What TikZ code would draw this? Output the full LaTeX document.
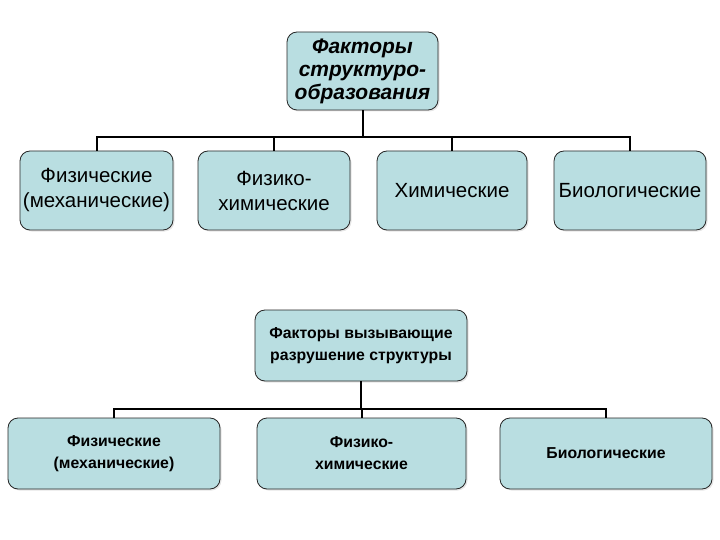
\documentclass[tikz,border=0pt]{standalone}
\usepackage{fontspec}
\setmainfont{Liberation Sans}
\definecolor{boxfill}{RGB}{185,222,225}
\usetikzlibrary{shadows}
\tikzset{
  fbox/.style={draw=black!85, line width=0.8pt, fill=boxfill, rounded corners=10pt, align=center, inner sep=0pt,
    drop shadow={shadow xshift=1.5pt, shadow yshift=-1.5pt, fill=black!20}},
  conn/.style={line width=2pt, draw=black},
  titlefont/.style={font=\fontsize{21}{23}\selectfont\bfseries\itshape},
  rowfont/.style={font=\fontsize{20.5}{25}\selectfont},
  lowfont/.style={font=\fontsize{15.8}{22}\selectfont\bfseries}
}
\begin{document}
\begin{tikzpicture}[x=1pt,y=-1pt]
\useasboundingbox (0,0) rectangle (720,540);
% top group
\node[fbox, minimum width=151pt, minimum height=78pt, titlefont] (T) at (362.5,71) {Факторы\\структуро-\\образования};
\node[fbox, minimum width=153pt, minimum height=79pt, rowfont] (A1) at (96.5,190.5) {Физические\\(механические)};
\node[fbox, minimum width=152pt, minimum height=79pt, rowfont] (A2) at (274,190.5) {Физико-\\химические};
\node[fbox, minimum width=150pt, minimum height=79pt, rowfont] (A3) at (452,190.5) {Химические};
\node[fbox, minimum width=152pt, minimum height=79pt, rowfont] (A4) at (630,190.5) {Биологические};
\coordinate (bus1) at (362.5,137);
\draw[conn] (T.south) -- (bus1);
\draw[conn] (A1.north) |- (bus1) -| (A4.north);
\draw[conn] (A2.north) -- (A2.north |- bus1);
\draw[conn] (A3.north) -- (A3.north |- bus1);
% bottom group
\node[fbox, minimum width=212pt, minimum height=71pt, lowfont] (B) at (361,345.5) {Факторы вызывающие\\разрушение структуры};
\node[fbox, minimum width=212pt, minimum height=71pt, lowfont] (C1) at (114,453.5) {Физические\\(механические)};
\node[fbox, minimum width=209pt, minimum height=71pt, lowfont] (C2) at (361.5,453.5) {Физико-\\химические};
\node[fbox, minimum width=212pt, minimum height=71pt, lowfont] (C3) at (606,453.5) {Биологические};
\coordinate (bus2) at (361,409);
\draw[conn] (B.south) -- (bus2);
\draw[conn] (C1.north) |- (bus2) -| (C3.north);
\draw[conn] (C2.north) -- (C2.north |- bus2);
\end{tikzpicture}
\end{document}
